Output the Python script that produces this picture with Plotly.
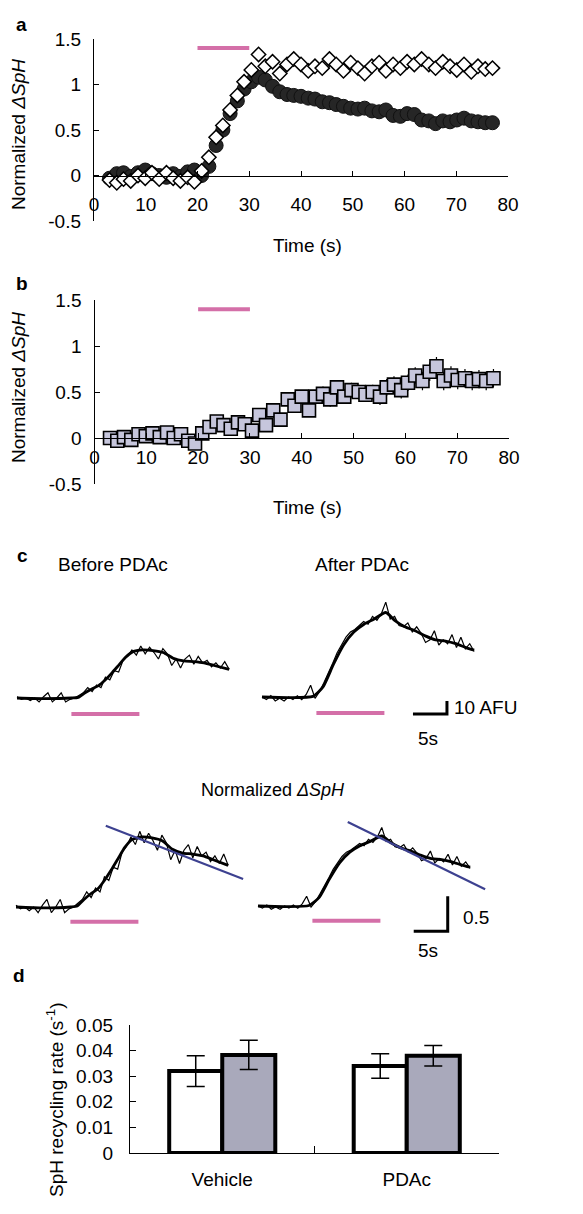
import plotly.graph_objects as go

W, H = 583, 1214
FONT = "Liberation Sans, Arial, Helvetica, sans-serif"

# ---------------- data ----------------
# panel a / b : time (s)
time_ab = [3.0, 4.4, 5.7, 7.1, 8.5, 9.9, 11.2, 12.6, 14.0, 15.3, 16.7, 18.1, 19.4, 20.8,
           22.2, 23.6, 24.9, 26.3, 27.7, 29.0, 30.4, 31.8, 33.1, 34.5, 35.9, 37.3, 38.6,
           40.0, 41.4, 42.7, 44.1, 45.5, 46.8, 48.2, 49.6, 51.0, 52.3, 53.7, 55.1, 56.4,
           57.8, 59.2, 60.5, 61.9, 63.3, 64.7, 66.0, 67.4, 68.8, 70.1, 71.5, 72.9, 74.2,
           75.6, 77.0]
a_filled = [-0.03, 0.02, 0.03, -0.01, 0.03, 0.06, 0.02, 0.0, -0.02, 0.02, -0.01, 0.04, 0.06,
            0.0, 0.1, 0.33, 0.5, 0.68, 0.82, 0.95, 1.03, 1.08, 1.05, 0.98, 0.92, 0.89, 0.88,
            0.87, 0.85, 0.84, 0.81, 0.8, 0.78, 0.76, 0.74, 0.73, 0.74, 0.71, 0.7, 0.72, 0.66,
            0.65, 0.68, 0.67, 0.61, 0.6, 0.57, 0.6, 0.59, 0.61, 0.63, 0.6, 0.59, 0.58, 0.58]
a_open = [-0.05, -0.08, -0.04, -0.06, 0.0, -0.03, 0.03, -0.04, 0.03, -0.03, -0.06, -0.02,
          -0.07, 0.05, 0.2, 0.42, 0.55, 0.72, 0.88, 1.03, 1.16, 1.33, 1.2, 1.25, 1.12, 1.22,
          1.28, 1.22, 1.15, 1.2, 1.18, 1.28, 1.22, 1.15, 1.24, 1.18, 1.12, 1.2, 1.24, 1.15,
          1.22, 1.18, 1.25, 1.22, 1.28, 1.22, 1.18, 1.25, 1.2, 1.16, 1.22, 1.14, 1.2, 1.17, 1.18]
b_mean = [0.0, -0.03, 0.01, -0.02, 0.04, 0.02, 0.05, 0.01, 0.06, 0.0, 0.04, -0.03, -0.06,
          0.05, 0.12, 0.18, 0.14, 0.1, 0.17, 0.15, 0.08, 0.25, 0.14, 0.3, 0.2, 0.42, 0.35,
          0.45, 0.3, 0.45, 0.48, 0.42, 0.55, 0.45, 0.52, 0.5, 0.47, 0.5, 0.45, 0.55, 0.58,
          0.52, 0.6, 0.68, 0.62, 0.72, 0.78, 0.62, 0.68, 0.63, 0.65, 0.62, 0.64, 0.62, 0.65]
b_err = [0.03, 0.03, 0.03, 0.03, 0.03, 0.03, 0.03, 0.03, 0.03, 0.03, 0.03, 0.03, 0.04,
         0.04, 0.05, 0.05, 0.05, 0.05, 0.05, 0.06, 0.06, 0.06, 0.06, 0.06, 0.06, 0.07, 0.07,
         0.07, 0.07, 0.07, 0.08, 0.08, 0.08, 0.08, 0.08, 0.08, 0.08, 0.08, 0.09, 0.09, 0.09,
         0.09, 0.09, 0.09, 0.1, 0.1, 0.1, 0.1, 0.1, 0.1, 0.1, 0.1, 0.1, 0.1, 0.1]
stim_ab = [20, 30]
stim_level_ab = 1.4

# panel c : example traces (s, AFU)
trace_t = [0.0, 0.65, 1.3, 1.95, 2.6, 3.25, 3.9, 4.55, 5.2, 5.85, 6.5, 7.15, 7.8, 8.45,
           9.1, 9.75, 10.4, 11.05, 11.7, 12.35, 13.0, 13.65, 14.3, 14.95, 15.6, 16.25,
           16.9, 17.55, 18.2, 18.85, 19.5, 20.15, 20.8, 21.45, 22.1, 22.75, 23.4, 24.05,
           24.7, 25.35, 26.0, 26.65, 27.3, 27.95, 28.6, 29.25, 29.9, 30.55, 31.2]
before_raw = [1, -1, 0, -2, 0, -3, 1, 4, -3, 0, 4, -3, -1, 0, 2, 4, 8, 5, 10, 8, 16, 14,
              21, 20, 29, 32, 37, 33, 40, 34, 39, 35, 30, 38, 34, 25, 30, 23, 30, 33, 26,
              32, 27, 29, 24, 27, 23, 28, 22]
after_raw = [0, -2, 1, -3, -1, -3, 0, -2, 1, -2, 2, 9, -1, 4, 11, 18, 26, 34, 40, 46, 50,
             52, 55, 58, 56, 62, 59, 64, 73, 60, 62, 55, 54, 57, 50, 54, 49, 42, 44, 51,
             40, 44, 41, 48, 38, 46, 37, 41, 35]
before_fit_t = [0, 4, 8, 9, 10, 11, 12, 13, 14, 15, 16, 17, 18.5, 20, 21.5, 23, 24.5, 26,
                27.5, 29, 31.2]
before_fit = [0, -0.5, 0, 0.5, 4, 7, 9.5, 14, 19.5, 25.5, 31.5, 35.5, 37, 36.5, 35, 30.5,
              28.5, 28, 27, 25, 22]
after_fit_t = [0, 4, 7.5, 9, 10.5, 12, 13.5, 15, 16.5, 18.2, 19.5, 21, 22.5, 24, 25.5, 27,
               28.5, 30, 31.2]
after_fit = [0, -0.5, 0.5, 8, 25, 40, 50, 56, 60, 65, 59, 54, 51, 47, 44, 43, 41, 38, 36]
stim_c = [8, 18]
decay_t = [13.2, 33.4]
decay_before = [1.16, 0.40]
decay_after = [1.20, 0.24]
scale_s = 5
scale_afu = 10
scale_norm = 0.5

# panel d
groups = ["Vehicle", "PDAc"]
rate_before = [0.032, 0.034]
rate_before_err = [0.006, 0.0048]
rate_after = [0.0383, 0.038]
rate_after_err = [0.0057, 0.004]

PINK = "#d46fa8"
BLUE = "#3d4190"


def fx(px):
    return px / W


def fy(py):
    return 1 - py / H


fig = go.Figure()

# ---------- panel a ----------
fig.add_trace(go.Scatter(x=time_ab, y=a_filled, mode="markers", xaxis="x", yaxis="y",
                         marker=dict(symbol="circle", size=14, color="#262626",
                                     line=dict(color="#111111", width=1)),
                         cliponaxis=False, showlegend=False))
fig.add_trace(go.Scatter(x=time_ab, y=a_open, mode="markers", xaxis="x", yaxis="y",
                         marker=dict(symbol="diamond", size=11, color="white",
                                     line=dict(color="black", width=1.5)),
                         cliponaxis=False, showlegend=False))
fig.add_trace(go.Scatter(x=stim_ab, y=[stim_level_ab] * 2, mode="lines", xaxis="x", yaxis="y",
                         line=dict(color=PINK, width=4), showlegend=False))

# ---------- panel b ----------
fig.add_trace(go.Scatter(x=time_ab, y=b_mean, mode="markers", xaxis="x2", yaxis="y2",
                         error_y=dict(type="data", array=b_err, color="black",
                                      thickness=1.2, width=0),
                         marker=dict(symbol="square", size=13, color="#c6c6dc",
                                     line=dict(color="black", width=1.6)),
                         cliponaxis=False, showlegend=False))
fig.add_trace(go.Scatter(x=stim_ab, y=[stim_level_ab] * 2, mode="lines", xaxis="x2", yaxis="y2",
                         line=dict(color=PINK, width=4), showlegend=False))

# ---------- panel c ----------
peak_b = max(before_fit)
peak_a = max(after_fit)
c_sets = [
    ("x3", "y3", before_raw, before_fit, before_fit_t, -12.3, None),
    ("x4", "y4", after_raw, after_fit, after_fit_t, -12.3, None),
    ("x5", "y5", [v / peak_b for v in before_raw], [v / peak_b for v in before_fit],
     before_fit_t, -0.21, decay_before),
    ("x6", "y6", [v / peak_a for v in after_raw], [v / peak_a for v in after_fit],
     after_fit_t, -0.21, decay_after),
]
for xa, ya, raw, fit, fit_t, pink_y, decay in c_sets:
    fig.add_trace(go.Scatter(x=trace_t, y=raw, mode="lines", xaxis=xa, yaxis=ya,
                             line=dict(color="black", width=1.2), showlegend=False))
    fig.add_trace(go.Scatter(x=fit_t, y=fit, mode="lines", xaxis=xa, yaxis=ya,
                             line=dict(color="black", width=2.8, shape="spline",
                                       smoothing=0.6),
                             showlegend=False))
    fig.add_trace(go.Scatter(x=stim_c, y=[pink_y] * 2, mode="lines", xaxis=xa, yaxis=ya,
                             line=dict(color=PINK, width=4), showlegend=False))
    if decay is not None:
        fig.add_trace(go.Scatter(x=decay_t, y=decay, mode="lines", xaxis=xa, yaxis=ya,
                                 line=dict(color=BLUE, width=2.2), showlegend=False))

# scale bars
sb_x0, sb_y0 = 22.2, -13
fig.add_trace(go.Scatter(x=[sb_x0, sb_x0 + scale_s, sb_x0 + scale_s],
                         y=[sb_y0, sb_y0, sb_y0 + scale_afu], mode="lines",
                         xaxis="x4", yaxis="y4", line=dict(color="black", width=3),
                         showlegend=False))
sb2_x0, sb2_y0 = 22.9, -0.36
fig.add_trace(go.Scatter(x=[sb2_x0, sb2_x0 + scale_s, sb2_x0 + scale_s],
                         y=[sb2_y0, sb2_y0, sb2_y0 + scale_norm], mode="lines",
                         xaxis="x6", yaxis="y6", line=dict(color="black", width=3),
                         showlegend=False))

# ---------- panel d ----------
fig.add_trace(go.Bar(x=groups, y=rate_before, name="Before", xaxis="x7", yaxis="y7",
                     marker=dict(color="white", line=dict(color="black", width=4)),
                     error_y=dict(type="data", array=rate_before_err, color="black",
                                  thickness=1.5, width=9),
                     showlegend=False))
fig.add_trace(go.Bar(x=groups, y=rate_after, name="After", xaxis="x7", yaxis="y7",
                     marker=dict(color="#a9a9bb", line=dict(color="black", width=4)),
                     error_y=dict(type="data", array=rate_after_err, color="black",
                                  thickness=1.5, width=9),
                     showlegend=False))

# ---------- axes ----------
tfont = dict(family=FONT, size=19, color="black")
common_x = dict(range=[0, 80], dtick=10, tick0=0, showline=True, linecolor="black",
                linewidth=1.3, ticks="inside", ticklen=5, tickwidth=1.3, tickcolor="black",
                showgrid=False, zeroline=False, tickfont=tfont, anchor="free",
                automargin=False)
common_y = dict(range=[-0.5, 1.5], tickvals=[-0.5, 0, 0.5, 1, 1.5],
                ticktext=["-0.5", "0", "0.5", "1", "1.5"], showline=True, linecolor="black",
                linewidth=1.3, ticks="inside", ticklen=5, tickwidth=1.3, tickcolor="black",
                showgrid=False, zeroline=False, tickfont=tfont, ticklabelstandoff=8,
                automargin=False)

hidden = dict(visible=False, showgrid=False, zeroline=False, automargin=False)

fig.update_layout(
    template="none",
    width=W, height=H, margin=dict(l=0, r=0, t=0, b=0, pad=0), autosize=False,
    paper_bgcolor="white", plot_bgcolor="rgba(0,0,0,0)",
    font=dict(family=FONT, color="black"),
    showlegend=False,
    barmode="group", bargap=0.425, bargroupgap=0,
    xaxis=dict(common_x, domain=[fx(94), fx(508)], position=fy(176), ticklabelstandoff=11),
    yaxis=dict(common_y, domain=[fy(221), fy(39)], anchor="x"),
    xaxis2=dict(common_x, domain=[fx(94.5), fx(509)], position=fy(438), ticklabelstandoff=2),
    yaxis2=dict(common_y, domain=[fy(484), fy(300)], anchor="x2"),
    xaxis3=dict(hidden, range=[-0.5, 34.5], domain=[fx(13.6), fx(251.6)], anchor="y3"),
    yaxis3=dict(hidden, range=[-20, 80], domain=[fy(724), fy(594)], anchor="x3"),
    xaxis4=dict(hidden, range=[-0.5, 34.5], domain=[fx(258.6), fx(496.6)], anchor="y4"),
    yaxis4=dict(hidden, range=[-20, 80], domain=[fy(723), fy(593)], anchor="x4"),
    xaxis5=dict(hidden, range=[-0.5, 34.5], domain=[fx(12.6), fx(250.6)], anchor="y5"),
    yaxis5=dict(hidden, range=[-0.45, 1.4], domain=[fy(938.5), fy(809)], anchor="x5"),
    xaxis6=dict(hidden, range=[-0.5, 34.5], domain=[fx(254.6), fx(492.6)], anchor="y6"),
    yaxis6=dict(hidden, range=[-0.45, 1.4], domain=[fy(937.5), fy(808)], anchor="x6"),
    xaxis7=dict(type="category", range=[-0.5, 1.5], domain=[fx(130), fx(499)], anchor="y7",
                showline=True, linecolor="black", linewidth=1.3, ticks="inside",
                tickson="boundaries", ticklen=7, tickwidth=1.3, tickcolor="black",
                showgrid=False, zeroline=False, ticklabelstandoff=9, automargin=False,
                tickfont=dict(family=FONT, size=19, color="black")),
    yaxis7=dict(range=[0, 0.05], tickvals=[0, 0.01, 0.02, 0.03, 0.04, 0.05],
                ticktext=["0", "0.01", "0.02", "0.03", "0.04", "0.05"],
                domain=[fy(1153), fy(1025)], anchor="x7", showline=True, linecolor="black",
                linewidth=1.3, ticks="inside", ticklen=6, tickwidth=1.3, tickcolor="black",
                showgrid=False, zeroline=False, ticklabelstandoff=12, automargin=False,
                tickfont=dict(family=FONT, size=19, color="black")),
)

# ---------- text ----------
def ann(text, px, py, size=18, xanchor="center", angle=0):
    fig.add_annotation(text=text, x=fx(px), y=fy(py), xref="paper", yref="paper",
                       xanchor=xanchor, yanchor="middle", showarrow=False, textangle=angle,
                       font=dict(family=FONT, size=size, color="black"))

ann("<b>a</b>", 21, 25, 19)
ann("<b>b</b>", 22, 283, 19)
ann("<b>c</b>", 22, 555, 19)
ann("<b>d</b>", 19, 975, 19)
ann("Normalized <i>ΔSpH</i>", 19, 135, 19, angle=-90)
ann("Normalized <i>ΔSpH</i>", 19, 388, 19, angle=-90)
ann("Time (s)", 307, 245, 19)
ann("Time (s)", 307, 508, 19)
ann("Before PDAc", 113, 565, 19)
ann("After PDAc", 362, 565, 19)
ann("10 AFU", 452, 707, 19, xanchor="left")
ann("5s", 428, 738, 19)
ann("Normalized <i>ΔSpH</i>", 273, 790, 18)
ann("0.5", 461, 918, 19, xanchor="left")
ann("5s", 428, 950, 19)
ann("SpH recycling rate (s<sup>-1</sup>)", 55, 1100, 19, angle=-90)

fig.write_html("out.html", config={"displayModeBar": False},
               post_script="document.body.style.margin='0';document.body.style.padding='0';")
